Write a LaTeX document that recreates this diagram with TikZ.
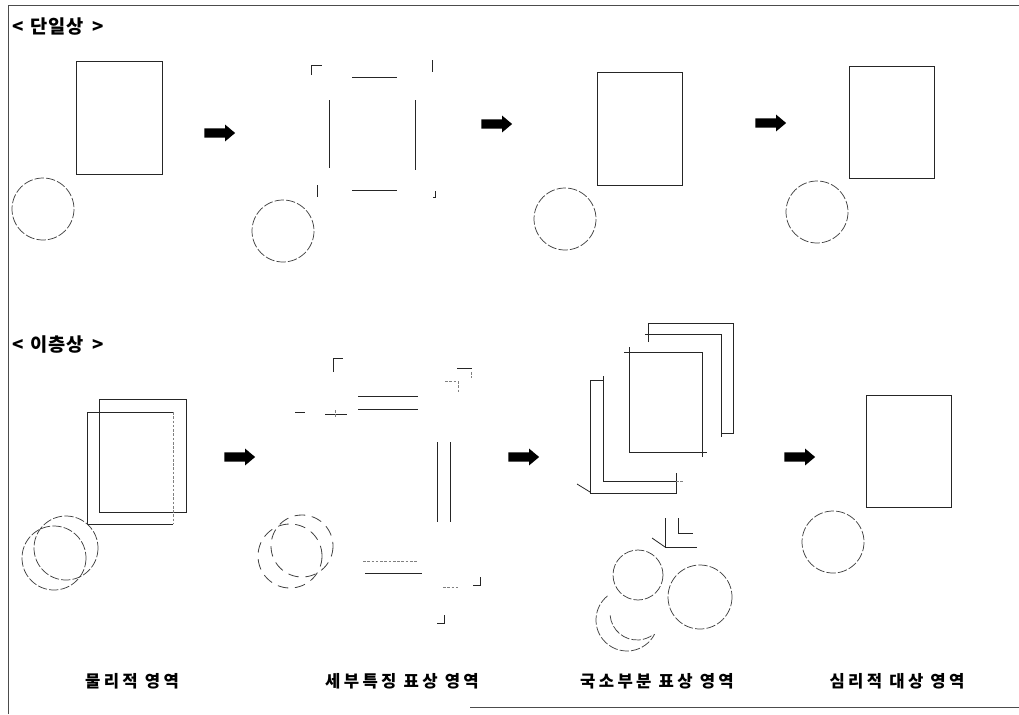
\documentclass[tikz,border=0pt]{standalone}
\usepackage{fontspec}
\newfontfamily\kotitle{Noto Sans CJK KR}[LetterSpace=6.0]
\newfontfamily\kolab{Noto Sans CJK KR}[LetterSpace=20.0]
\usetikzlibrary{shapes.arrows}
\tikzset{
  shp/.style={draw=black!85, line width=0.6pt},
  frag/.style={draw=black!85, line width=0.75pt},
  lightfrag/.style={draw=black!50, line width=0.5pt, dash pattern=on 2pt off 1.2pt},
  circ/.style={draw=black!75, line width=0.55pt, dash pattern=on 7pt off 1.6pt},
  brokencirc/.style={draw=black!75, line width=0.6pt, dash pattern=on 8pt off 5pt},
  frame/.style={draw=black!70, line width=0.6pt},
  blockarrow/.style={single arrow, fill=black, draw=none, minimum height=23pt,
    single arrow head extend=2.8pt, single arrow tip angle=80,
    inner xsep=0pt, inner ysep=3.3pt},
  titletext/.style={anchor=west, inner sep=0pt, font=\kotitle\bfseries\fontsize{14}{16}\selectfont},
  labeltext/.style={inner sep=0pt, font=\kolab\bfseries\fontsize{12.5}{14}\selectfont}
}
\begin{document}
\begin{tikzpicture}[x=0.75pt, y=-0.75pt]
\useasboundingbox (0,0) rectangle (1019,714);
% frame
\draw[frame] (8,714) -- (8,5) -- (1019,5);
\draw[frame] (470,707) -- (1019,707);

% titles
\node[titletext] (t1) at (12,27) {<\hspace{5pt}단일상\hspace{6pt}>};
\node[titletext] (t2) at (12,345) {<\hspace{5pt}이층상\hspace{6pt}>};

% ================= top row =================
% panel 1
\draw[shp] (76,61) rectangle (162,174);
\draw[circ] (43,209) circle (31);
\node[blockarrow] (a1) at (217,133) {};
% panel 2 (fragments)
\draw[frag] (311,75) -- (311,65) -- (322,65);
\draw[frag] (352,77) -- (397,77);
\draw[frag] (432,60) -- (432,72);
\draw[frag] (329,100) -- (329,168);
\draw[frag] (415,100) -- (415,170);
\draw[frag] (352,190) -- (397,190);
\draw[frag] (317,185) -- (317,197);
\draw[frag] (433,197) -- (435,197) -- (435,191);
\draw[circ] (283,231) circle (31);
\node[blockarrow] (a2) at (494,124) {};
% panel 3
\draw[shp] (597,72) rectangle (682,185);
\draw[circ] (565,219) circle (31);
\node[blockarrow] (a3) at (768,123) {};
% panel 4
\draw[shp] (849,66) rectangle (934,178);
\draw[circ] (817,212) circle (31);

% ================= bottom row =================
% panel 1
\draw[shp] (99,399) rectangle (186,512);
\draw[shp] (173,412) -- (87,412) -- (87,524) -- (173,524);
\draw[lightfrag] (173,412) -- (173,524);
\draw[circ] (54,558) circle (32);
\draw[circ] (66,548) circle (32);
\node[blockarrow] (a4) at (237,457) {};
% panel 2 (fragments)
\draw[frag] (333,372) -- (333,358) -- (343,358);
\draw[frag] (295,412) -- (305,412);
\draw[frag] (325,414) -- (347,414);
\draw[lightfrag] (335,410) -- (335,418);
\draw[frag] (358,396) -- (418,396);
\draw[frag] (358,409) -- (418,409);
\draw[frag] (457,368) -- (472,368);
\draw[lightfrag] (471,372) -- (471,378);
\draw[lightfrag] (445,381) -- (456,381);
\draw[lightfrag] (458,381) -- (458,392);
\draw[frag] (437,442) -- (437,522);
\draw[frag] (450,442) -- (450,522);
\draw[lightfrag] (363,561) -- (417,561);
\draw[frag] (365,573) -- (422,573);
\draw[lightfrag] (443,587) -- (460,587);
\draw[frag] (473,585) -- (480,585) -- (480,577);
\draw[frag] (437,623) -- (444,623) -- (444,615);
\draw[brokencirc] (290,556) circle (32);
\draw[brokencirc] (302,546) circle (31);
\node[blockarrow] (a5) at (521,457) {};
% panel 3 (local parts)
\draw[shp] (648,342) -- (648,323) -- (733,323) -- (733,433) -- (722,433);
\draw[shp] (645,334) -- (721,334) -- (721,437);
\draw[shp] (648,329) -- (648,340);
\draw[shp] (629,352) rectangle (702,452);
\draw[shp] (624,352) -- (629,352) (629,347) -- (629,352);
\draw[shp] (702,452) -- (707,452) (702,452) -- (702,457);
\draw[shp] (603,380) -- (590,380) -- (590,493) -- (676,493) -- (676,473);
\draw[shp] (603,376) -- (603,481) -- (676,481);
\draw[lightfrag] (676,481) -- (684,481);
\draw[shp] (577,484) -- (590,492);
\draw[shp] (665,518) -- (665,547) -- (697,547);
\draw[shp] (678,518) -- (678,533) -- (693,533);
\draw[shp] (652,538) -- (665,547);
\draw[circ] (638,575) circle (25);
\draw[circ] (700,597) circle (32);
\draw[circ] (627,620) ++(231:31) arc[start angle=231, end angle=27, radius=31];
\draw[circ] (637,613) ++(175:27) arc[start angle=175, end angle=53, radius=27];
\node[blockarrow] (a6) at (797,457) {};
% panel 4
\draw[shp] (866,395) rectangle (951,507);
\draw[circ] (833,542) circle (31);

% labels
\node[labeltext] (l1) at (132,681) {물리적 영역};
\node[labeltext] (l2) at (402,681) {세부특징 표상 영역};
\node[labeltext] (l3) at (657,681) {국소부분 표상 영역};
\node[labeltext] (l4) at (897,681) {심리적 대상 영역};
\end{tikzpicture}
\end{document}
